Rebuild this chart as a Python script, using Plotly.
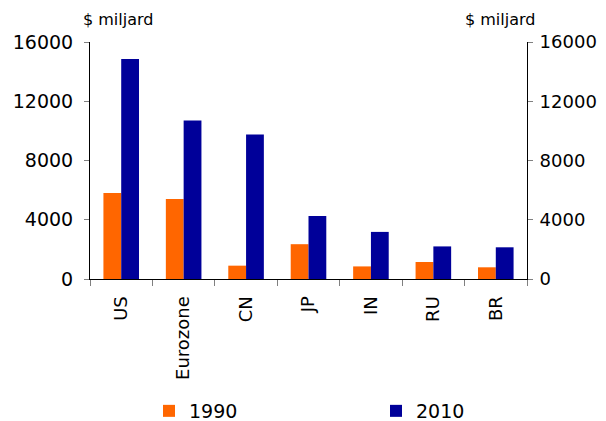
import plotly.graph_objects as go

landen = ["US", "Eurozone", "CN", "JP", "IN", "RU", "BR"]
bbp_1990 = [5800, 5400, 900, 2350, 850, 1150, 790]
bbp_2010 = [14850, 10700, 9750, 4250, 3180, 2200, 2140]
yticks = [0, 4000, 8000, 12000, 16000]
ylabels = ["0", "4000", "8000", "12000", "16000"]

font = "DejaVu Sans"
# de pagina heeft 8px marge rond de figuur
off = 8
W, H = 606 - off, 421 - off
L, R, T, B = 90 - off, 606 - 527, 42 - off, 421 - 279

fig = go.Figure()
fig.add_trace(go.Bar(x=landen, y=bbp_1990, name="1990", legend="legend",
                     marker=dict(color="#FF6600", line=dict(width=0))))
fig.add_trace(go.Bar(x=landen, y=bbp_2010, name="2010", legend="legend2",
                     marker=dict(color="#000099", line=dict(width=0))))
# lege trace zodat de rechteras getekend wordt
fig.add_trace(go.Scatter(x=landen, y=[None] * len(landen), yaxis="y2",
                         showlegend=False, hoverinfo="skip"))

yas = dict(range=[0, 16000], tickvals=yticks, ticktext=ylabels,
           ticks="outside", ticklen=5, automargin=False,
           tickcolor="#808080", showline=True, linecolor="black", linewidth=1,
           showgrid=False, zeroline=False, ticklabelstandoff=7,
           tickfont=dict(family=font, size=19, color="black"))

leg = dict(orientation="h", xref="container", yref="container",
           xanchor="left", yanchor="middle", y=(421 - 411) / H,
           font=dict(family=font, size=19, color="black"),
           bgcolor="rgba(0,0,0,0)", borderwidth=0)

fig.update_layout(
    width=W, height=H,
    margin=dict(l=L, r=R, t=T, b=B, autoexpand=False),
    paper_bgcolor="white", plot_bgcolor="white",
    barmode="group", bargap=0.43, bargroupgap=0,
    font=dict(family=font, color="black"),
    xaxis=dict(ticks="outside", tickson="boundaries", ticklen=6,
               tickcolor="#808080", showline=True, linecolor="black",
               linewidth=1, tickangle=-90, ticklabelstandoff=9,
               automargin=False,
               tickfont=dict(family=font, size=18, color="black")),
    yaxis=yas,
    yaxis2=dict(yas, overlaying="y", side="right", ticklabelstandoff=3,
                tickfont=dict(family=font, size=18, color="black")),
    legend=dict(leg, x=(149 - off) / W),
    legend2=dict(leg, x=(376 - off) / W),
)

# assentitels boven de assen, in pixels omgerekend naar papiercoordinaten
pw, ph = W - L - R, H - T - B
fig.layout.annotations = [
    dict(text="$ miljard", x=(81 - 90) / pw, y=(279 - 19) / ph,
         xref="paper", yref="paper", xanchor="left", yanchor="middle",
         showarrow=False, font=dict(family=font, size=16, color="black")),
    dict(text="$ miljard", x=(537 - 90) / pw, y=(279 - 19) / ph,
         xref="paper", yref="paper", xanchor="right", yanchor="middle",
         showarrow=False, font=dict(family=font, size=16, color="black")),
]

fig.write_html("out.html")
